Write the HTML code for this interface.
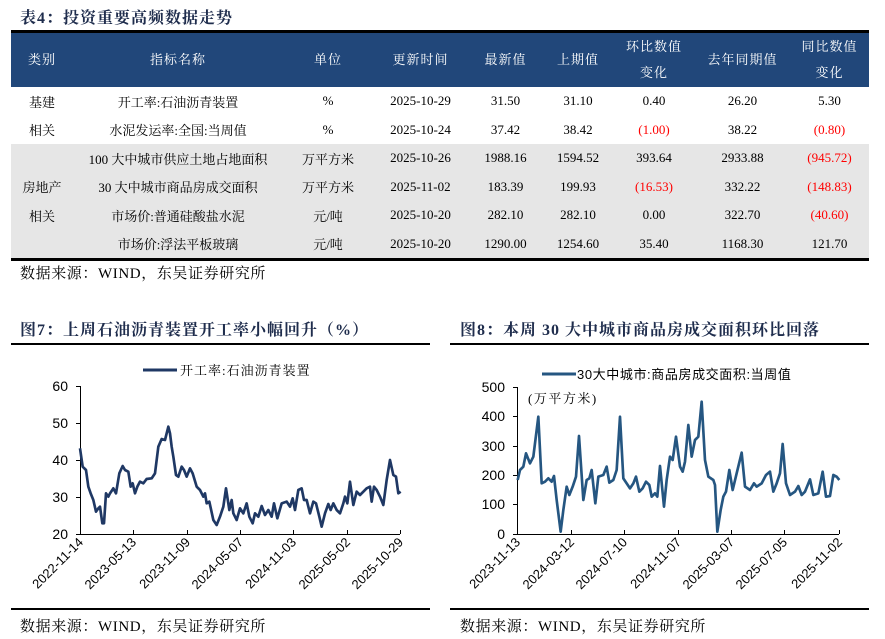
<!DOCTYPE html>
<html><head><meta charset="utf-8"><style>
body{margin:0;width:885px;height:639px;background:#fff;position:relative;overflow:hidden;font-family:"Liberation Serif","Noto Serif CJK SC",serif;}
.t{position:absolute;white-space:nowrap;}
.ttl{font-weight:bold;font-size:16px;letter-spacing:1px;color:#1f2d4d;font-family:"Liberation Serif","Noto Serif CJK SC",serif;}
table{position:absolute;left:11px;top:30px;width:858px;border-collapse:collapse;border-top:3px solid #000;border-bottom:3px solid #000;font-size:13px;}
th{background:#21477a;color:#fff;font-weight:normal;height:52px;line-height:26px;font-size:13px;letter-spacing:1px;}
td{text-align:center;height:28.5px;padding:0;color:#000;}
.g td{background:#e6e6e6;}
.r{color:#ff0000;}
.fn{font-size:15px;letter-spacing:0.6px;}
</style></head><body>
<div class="t ttl" style="left:20px;top:5px;">表4：投资重要高频数据走势</div>
<table>
<colgroup><col style="width:62px"><col style="width:210px"><col style="width:90px"><col style="width:95px"><col style="width:75px"><col style="width:70px"><col style="width:82px"><col style="width:95px"><col style="width:79px"></colgroup>
<tr><th>类别</th><th>指标名称</th><th>单位</th><th>更新时间</th><th>最新值</th><th>上期值</th><th>环比数值<br>变化</th><th>去年同期值</th><th>同比数值<br>变化</th></tr>
<tr><td>基建</td><td>开工率:石油沥青装置</td><td>%</td><td>2025-10-29</td><td>31.50</td><td>31.10</td><td>0.40</td><td>26.20</td><td>5.30</td></tr>
<tr><td>相关</td><td>水泥发运率:全国:当周值</td><td>%</td><td>2025-10-24</td><td>37.42</td><td>38.42</td><td class="r">(1.00)</td><td>38.22</td><td class="r">(0.80)</td></tr>
<tr class="g"><td></td><td>100 大中城市供应土地占地面积</td><td>万平方米</td><td>2025-10-26</td><td>1988.16</td><td>1594.52</td><td>393.64</td><td>2933.88</td><td class="r">(945.72)</td></tr>
<tr class="g"><td>房地产</td><td>30 大中城市商品房成交面积</td><td>万平方米</td><td>2025-11-02</td><td>183.39</td><td>199.93</td><td class="r">(16.53)</td><td>332.22</td><td class="r">(148.83)</td></tr>
<tr class="g"><td>相关</td><td>市场价:普通硅酸盐水泥</td><td>元/吨</td><td>2025-10-20</td><td>282.10</td><td>282.10</td><td>0.00</td><td>322.70</td><td class="r">(40.60)</td></tr>
<tr class="g"><td></td><td>市场价:浮法平板玻璃</td><td>元/吨</td><td>2025-10-20</td><td>1290.00</td><td>1254.60</td><td>35.40</td><td>1168.30</td><td>121.70</td></tr>
</table>
<div class="t fn" style="left:20px;top:262px;">数据来源：WIND，东吴证券研究所</div>
<div class="t ttl" style="left:20px;top:317px;">图7：上周石油沥青装置开工率小幅回升（%）</div>
<div class="t ttl" style="left:460px;top:317px;">图8：本周 30 大中城市商品房成交面积环比回落</div>
<div style="position:absolute;left:11px;top:343px;width:419px;height:2px;background:#000"></div>
<div style="position:absolute;left:450px;top:343px;width:419px;height:2px;background:#000"></div>
<div style="position:absolute;left:11px;top:608px;width:419px;height:2px;background:#000"></div>
<div style="position:absolute;left:450px;top:608px;width:419px;height:2px;background:#000"></div>
<div class="t fn" style="left:20px;top:615px;">数据来源：WIND，东吴证券研究所</div>
<div class="t fn" style="left:460px;top:615px;">数据来源：WIND，东吴证券研究所</div>
<svg width="885" height="639" style="position:absolute;left:0;top:0" font-family="Liberation Sans, sans-serif">
<g stroke="#000" stroke-width="1" fill="none">
<path d="M80.5 386V534.5H400"/>
<path d="M76 386.5h4M76 423.5h4M76 460.5h4M76 497.5h4M76 534.5h4"/>
<path d="M80.5 530v4M133.5 530v4M187.5 530v4M240.5 530v4M293.5 530v4M347.5 530v4M400.5 530v4"/>
<path d="M517.5 387V534.5H839"/>
<path d="M513 387.5h4M513 416.5h4M513 446.5h4M513 475.5h4M513 504.5h4M513 534.5h4"/>
<path d="M517.5 530v4M571.5 530v4M624.5 530v4M678.5 530v4M731.5 530v4M784.5 530v4M839.5 530v4"/>
</g>
<g font-size="14" text-anchor="end" fill="#000">
<text x="68" y="391">60</text><text x="68" y="428">50</text><text x="68" y="465">40</text><text x="68" y="502">30</text><text x="68" y="539">20</text>
<text x="505" y="392">500</text><text x="505" y="421">400</text><text x="505" y="451">300</text><text x="505" y="480">200</text><text x="505" y="509">100</text><text x="505" y="539">0</text>
</g>
<g font-size="13" text-anchor="end" fill="#000">
<text transform="translate(84,543) rotate(-45)">2022-11-14</text>
<text transform="translate(137,543) rotate(-45)">2023-05-13</text>
<text transform="translate(191,543) rotate(-45)">2023-11-09</text>
<text transform="translate(244,543) rotate(-45)">2024-05-07</text>
<text transform="translate(297,543) rotate(-45)">2024-11-03</text>
<text transform="translate(351,543) rotate(-45)">2025-05-02</text>
<text transform="translate(404,543) rotate(-45)">2025-10-29</text>
<text transform="translate(521,543) rotate(-45)">2023-11-13</text>
<text transform="translate(575,543) rotate(-45)">2024-03-12</text>
<text transform="translate(628,543) rotate(-45)">2024-07-10</text>
<text transform="translate(682,543) rotate(-45)">2024-11-07</text>
<text transform="translate(735,543) rotate(-45)">2025-03-07</text>
<text transform="translate(788,543) rotate(-45)">2025-07-05</text>
<text transform="translate(843,543) rotate(-45)">2025-11-02</text>
</g>
<line x1="143" y1="370" x2="177" y2="370" stroke="#1f3864" stroke-width="3"/>
<text x="180" y="375" font-size="13" letter-spacing="1" font-family="Liberation Serif, Noto Serif CJK SC, serif">开工率:石油沥青装置</text>
<line x1="542" y1="374" x2="576" y2="374" stroke="#255681" stroke-width="3"/>
<text x="577" y="379" font-size="13" letter-spacing="0.6" font-family="Liberation Sans, Noto Sans CJK SC, sans-serif">30大中城市:商品房成交面积:当周值</text>
<text x="528" y="403" font-size="13" letter-spacing="1.5" font-family="Liberation Serif, Noto Serif CJK SC, serif">(万平方米)</text>
<g transform="translate(0,360) scale(0.33333)" fill="none" stroke="#1f3864" stroke-width="8" stroke-linejoin="round">
<polyline points="240,265 248,320 258,330 265,380 272,400 280,420 288,455 295,445 300,440 307,490 312,490 318,400 325,410 330,400 340,385 348,400 358,340 368,318 375,330 385,335 392,380 398,370 405,400 412,380 420,365 430,370 440,357 455,355 465,340 475,260 485,237 495,240 505,200 510,220 515,260 520,290 528,345 535,350 545,320 552,330 560,350 570,325 578,340 590,380 600,390 610,410 615,400 620,430 628,425 640,480 650,495 660,470 670,440 678,385 688,450 695,420 700,460 710,480 720,445 730,460 740,430 748,470 758,490 765,460 775,470 785,438 795,465 805,450 815,470 822,430 832,475 845,430 860,425 870,440 878,415 885,450 895,390 905,385 912,420 920,420 930,460 940,425 948,430 958,470 965,500 975,460 985,432 992,450 1000,430 1010,450 1020,460 1030,430 1035,410 1042,430 1050,365 1060,435 1070,395 1080,405 1090,395 1100,385 1110,380 1115,425 1122,380 1130,390 1140,410 1150,435 1160,360 1170,300 1180,345 1188,350 1195,400 1202,395"/>
</g>
<g transform="translate(450,360) scale(0.33333)" fill="none" stroke="#255681" stroke-width="8" stroke-linejoin="round">
<polyline points="203,360 210,330 220,320 228,280 240,310 250,290 265,170 275,370 285,365 295,355 305,365 312,348 320,420 332,515 340,450 350,380 358,405 368,380 378,350 387,228 400,420 410,360 418,355 425,330 436,430 445,350 460,345 470,320 478,368 490,360 500,330 510,170 520,355 530,370 540,385 550,370 558,350 568,395 578,385 588,365 598,375 605,410 615,400 622,410 630,318 642,440 650,360 660,290 668,300 678,230 690,320 698,335 705,305 715,195 725,290 735,240 745,230 755,125 765,300 775,350 790,360 795,375 802,515 812,450 820,410 828,395 838,330 848,390 860,340 875,278 885,380 900,390 912,370 920,380 935,370 948,345 960,335 970,395 980,370 990,340 998,252 1008,370 1020,405 1035,395 1045,378 1055,405 1065,395 1080,358 1090,405 1105,400 1118,335 1128,410 1140,408 1150,345 1160,350 1168,360"/>
</g>
</svg>
</body></html>
